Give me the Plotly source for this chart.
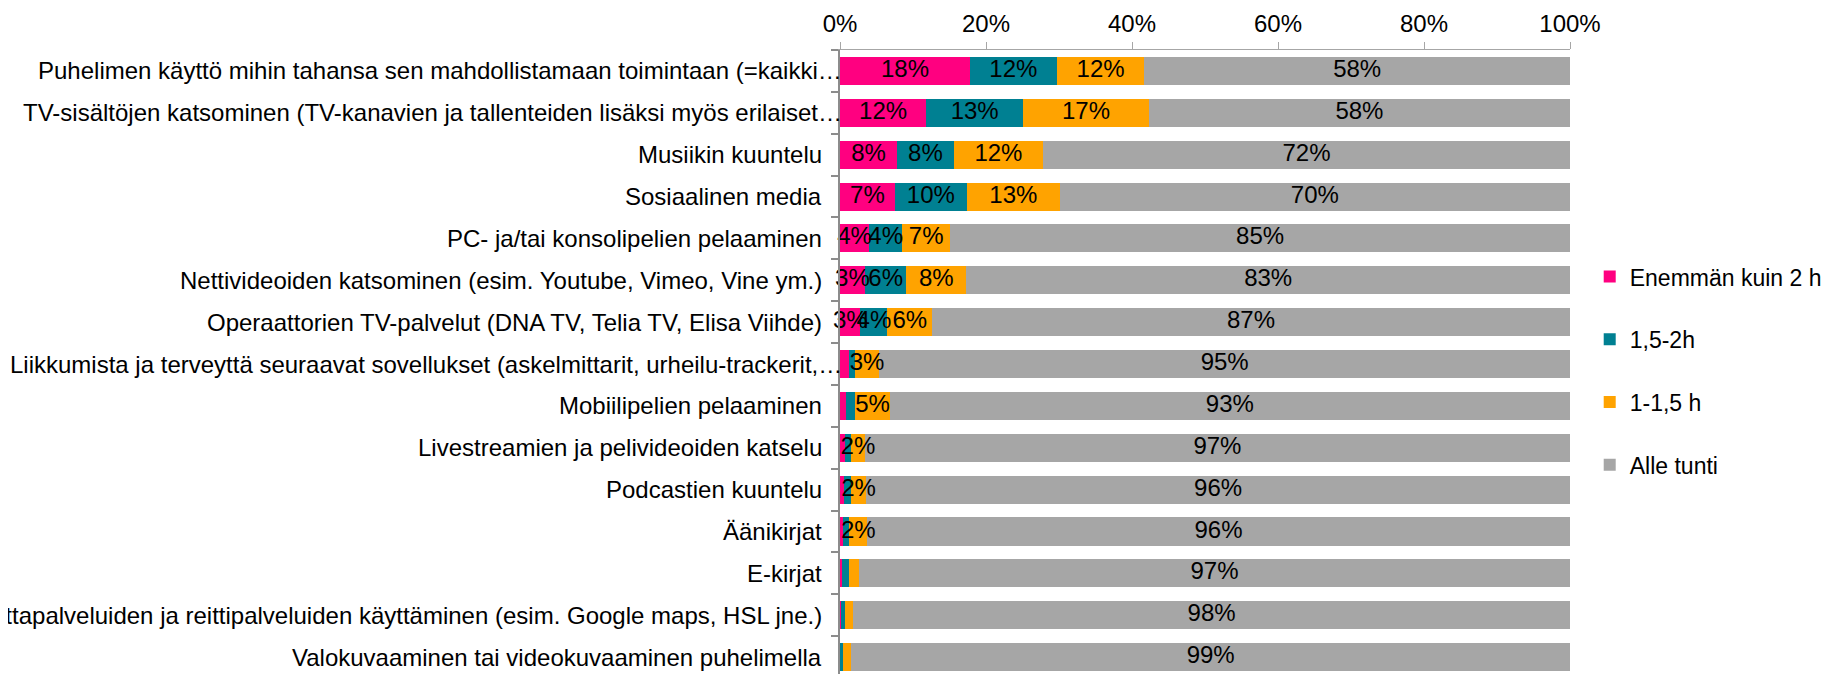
import plotly.graph_objects as go

categories = [
    "Puhelimen käyttö mihin tahansa sen mahdollistamaan toimintaan (=kaikki…",
    "TV-sisältöjen katsominen (TV-kanavien ja tallenteiden lisäksi myös erilaiset…",
    "Musiikin kuuntelu",
    "Sosiaalinen media",
    "PC- ja/tai konsolipelien pelaaminen",
    "Nettivideoiden katsominen (esim. Youtube, Vimeo, Vine ym.)",
    "Operaattorien TV-palvelut (DNA TV, Telia TV, Elisa Viihde)",
    "Liikkumista ja terveyttä seuraavat sovellukset (askelmittarit, urheilu-trackerit,…",
    "Mobiilipelien pelaaminen",
    "Livestreamien ja pelivideoiden katselu",
    "Podcastien kuuntelu",
    "Äänikirjat",
    "E-kirjat",
    "Karttapalveluiden ja reittipalveluiden käyttäminen (esim. Google maps, HSL jne.)",
    "Valokuvaaminen tai videokuvaaminen puhelimella",
]

series_names = ["Enemmän kuin 2 h", "1,5-2h", "1-1,5 h", "Alle tunti"]

more_than_2h = [17.8, 11.8, 7.8, 7.5, 4.0, 3.4, 2.8, 1.3, 0.8, 0.7, 0.6, 0.4, 0.3, 0.1, 0.05]
h15_2 = [11.9, 13.3, 7.8, 9.9, 4.5, 5.7, 3.7, 0.7, 1.3, 0.8, 0.9, 0.9, 0.9, 0.6, 0.3]
h1_15 = [12.0, 17.2, 12.2, 12.7, 6.6, 8.2, 6.1, 3.4, 4.7, 1.9, 2.1, 2.4, 1.4, 1.1, 1.2]
under_1h = [58.3, 57.7, 72.2, 69.9, 84.9, 82.7, 87.4, 94.6, 93.2, 96.6, 96.4, 96.3, 97.4, 98.2, 98.45]

labels_more_than_2h = ["18%", "12%", "8%", "7%", "4%", "3%", "3%", "", "", "", "", "", "", "", ""]
labels_h15_2 = ["12%", "13%", "8%", "10%", "4%", "6%", "4%", "", "", "", "", "", "", "", ""]
labels_h1_15 = ["12%", "17%", "12%", "13%", "7%", "8%", "6%", "3%", "5%", "2%", "2%", "2%", "", "", ""]
labels_under_1h = ["58%", "58%", "72%", "70%", "85%", "83%", "87%", "95%", "93%", "97%", "96%", "96%", "97%", "98%", "99%"]

x_tickvals = [0, 20, 40, 60, 80, 100]
x_ticktext = ["0%", "20%", "40%", "60%", "80%", "100%"]

colors = ["#FF0080", "#008092", "#FFA300", "#A6A6A6"]
FONT = "Arial, Liberation Sans, sans-serif"

fig = go.Figure()
all_vals = [more_than_2h, h15_2, h1_15, under_1h]
all_labels = [labels_more_than_2h, labels_h15_2, labels_h1_15, labels_under_1h]

for name, vals, col in zip(series_names, all_vals, colors):
    fig.add_trace(go.Bar(
        y=categories, x=vals, name=name, orientation="h",
        marker=dict(color=col, line=dict(width=0)),
        legendgroup=name, hoverinfo="skip",
    ))

# data labels drawn on top of all bars, centred in each segment
base = [0.0] * len(categories)
for name, vals, labs in zip(series_names, all_vals, all_labels):
    mids = [b + v / 2 for b, v in zip(base, vals)]
    base = [b + v for b, v in zip(base, vals)]
    fig.add_trace(go.Scatter(
        y=categories, x=mids, mode="text", text=labs,
        textposition="middle center", cliponaxis=False,
        textfont=dict(family=FONT, size=24, color="#000000"),
        showlegend=False, hoverinfo="skip",
    ))

# category labels (Excel-style: truncated labels with … sit closer to the axis)
for cat in categories:
    fig.add_annotation(
        x=0, xref="paper", y=cat, yref="y", text=cat, showarrow=False,
        xanchor="right", yanchor="middle",
        xshift=4 if cat.endswith("…") else -16,
        font=dict(family=FONT, size=24, color="#000000"),
    )

fig.update_layout(
    template="none",
    width=1831, height=674,
    margin=dict(l=832, r=269, t=42, b=8, pad=0, autoexpand=False),
    barmode="stack", bargap=0.33,
    paper_bgcolor="white", plot_bgcolor="white",
    font=dict(family=FONT, size=24, color="#000000"),
    showlegend=True,
    legend=dict(
        x=1.027, xanchor="left", y=0.6713, yanchor="top",
        traceorder="grouped", tracegroupgap=29.8,
        font=dict(family=FONT, size=23, color="#000000"),
        bgcolor="rgba(0,0,0,0)", borderwidth=0, itemclick=False,
    ),
)
fig.update_xaxes(
    side="top", range=[0, 100], tickmode="array", tickvals=x_tickvals, ticktext=x_ticktext,
    showgrid=False, zeroline=False, showline=True, linecolor="#A6A6A6", linewidth=1,
    ticks="outside", ticklen=7, tickcolor="#A6A6A6", tickwidth=1,
    tickfont=dict(family=FONT, size=24, color="#000000"), fixedrange=True,
    automargin=False,
)
fig.update_yaxes(
    type="category", categoryorder="array", categoryarray=categories,
    range=[14.403, -0.5], tickson="boundaries", showticklabels=False,
    showgrid=False, zeroline=False, showline=True, linecolor="#8C8C8C", linewidth=2,
    ticks="outside", ticklen=7, tickcolor="#8C8C8C", tickwidth=2,
    fixedrange=True, automargin=False,
)

fig.write_html("out.html")
